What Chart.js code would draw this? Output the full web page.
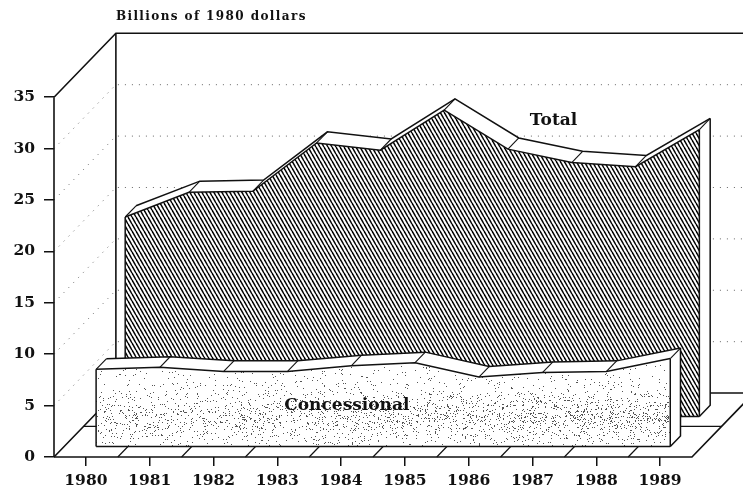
<!DOCTYPE html>
<html>
<head>
<meta charset="utf-8">
<title>Billions of 1980 dollars</title>
<script src="https://cdn.jsdelivr.net/npm/chart.js@4/dist/chart.umd.min.js"></script>
<style>
  html, body { margin: 0; padding: 0; background: #fff; }
  canvas { display: block; }
</style>
</head>
<body>
<canvas id="chart" width="743" height="486"></canvas>
<script>
const years = [1980, 1981, 1982, 1983, 1984, 1985, 1986, 1987, 1988, 1989];
const total = [19.4, 21.8, 21.9, 26.6, 25.9, 29.8, 26.0, 24.7, 24.3, 27.9];
const concessional = [7.5, 7.7, 7.3, 7.3, 7.85, 8.15, 6.75, 7.2, 7.3, 8.55];
const valueTicks = [0, 5, 10, 15, 20, 25, 30, 35];

const INK = "#111";
const SERIF = "'DejaVu Serif', serif";

// how far the back wall sits behind the front, in axis units
const WALL_X = 0.97;
const WALL_Y = 6.22;
const X_MIN = 1979.5;
const X_END = 1989.5;
const X_MAX = 1990.3;
const Y_MAX = 41.25;

const at = (x, y, depth) => ({ x: x + depth * WALL_X, y: y + depth * WALL_Y });
const edge = (values, depth) => values.map((v, i) => at(years[i], v, depth));

// steep diagonal stripes, running down to the right
function hatchPattern() {
  const w = 4;
  const h = 7;
  const c = document.createElement("canvas");
  c.width = w;
  c.height = h;
  const g = c.getContext("2d");
  g.fillStyle = "#fff";
  g.fillRect(0, 0, w, h);
  g.strokeStyle = "#000";
  g.lineWidth = 1.5;
  for (let i = -w; i <= w; i += w) {
    g.beginPath();
    g.moveTo(i, 0);
    g.lineTo(i + w, h);
    g.stroke();
  }
  return g.createPattern(c, "repeat");
}

// speckle for the front face, denser towards the lower part
function stipplePattern() {
  const w = 743;
  const h = 486;
  const c = document.createElement("canvas");
  c.width = w;
  c.height = h;
  const g = c.getContext("2d");
  g.fillStyle = "#fff";
  g.fillRect(0, 0, w, h);
  g.fillStyle = "#555";
  for (let y = 0; y < h; y++) {
    const band = Math.exp(-Math.pow((y - 416) / 18, 2));
    for (let x = 0; x < w; x++) {
      const n = Math.sin(x * 12.9898 + y * 78.233) * 43758.5453;
      if (n - Math.floor(n) < 0.025 + 0.085 * band * (0.5 + x / w)) g.fillRect(x, y, 1, 1);
    }
  }
  return g.createPattern(c, "repeat");
}

// every layer is one dataset; listed back to front
const layers = [];
const line = (points, width = 1.5, dash = [], color = INK) =>
  layers.push({ data: points, borderColor: color, borderWidth: width, borderDash: dash, fill: false });
const face = (points, baseline, color) =>
  layers.push({ data: points, borderWidth: 0, borderColor: "transparent", backgroundColor: color, fill: { value: baseline } });

// walls and floor
valueTicks.slice(1, -1).forEach((v) => {
  line([at(X_MIN, v, 0), at(X_MIN, v, 1), { x: X_MAX, y: v + WALL_Y }], 1, [1, 6], "#666");
});
line([at(X_MIN, 35, 0), at(X_MIN, 35, 1), { x: X_MAX, y: 35 + WALL_Y }], 1.6);
line([at(X_MIN, 0, 0), at(X_MIN, 35, 0)], 1.6);
line([at(X_MIN, 0, 1), at(X_MIN, 35, 1)], 1.6);
line([at(X_MIN, 0, 0), at(X_MIN, 0, 1), { x: X_MAX, y: WALL_Y }], 1.6);
line([at(X_MIN, 0, 0), at(X_END, 0, 0), at(X_END, 0, 0.84)], 1.6);
line([at(X_MIN, 0, 0.48), at(X_END, 0, 0.48)], 1.3);
years.slice(0, -1).forEach((y) => line([at(y + 0.5, 0, 0), at(y + 0.5, 0, 1)], 1.2));

// one ribbon: back edge, white top and side, patterned front, outlines
function ribbon(values, front, back, fillColor) {
  const first = years[0];
  const last = years[years.length - 1];
  face(edge(values, back), back * WALL_Y, "#fff");
  face(edge(values, front), front * WALL_Y, fillColor);
  line(edge(values, back));
  line(edge(values, front));
  years.forEach((y, i) => line([at(y, values[i], front), at(y, values[i], back)], 1.1));
  line([at(first, 0, front), at(first, values[0], front)]);
  line([at(last, 0, front), at(last, values[9], front)]);
  line([at(first, 0, front), at(last, 0, front)]);
  line([at(last, values[9], back), at(last, 0, back), at(last, 0, front)]);
}
ribbon(total, 0.635, 0.81, hatchPattern());
ribbon(concessional, 0.165, 0.33, stipplePattern());

const labels = [
  { text: "Billions of 1980 dollars", x: 1980.47, y: 42.8, font: "bold 12px " + SERIF, align: "left", spacing: "1.4px" },
  { text: "Total", x: 1987.33, y: 32.7, font: "bold 17px " + SERIF, align: "center", spacing: "0px" },
  { text: "Concessional", x: 1984.09, y: 4.96, font: "bold 17px " + SERIF, align: "center", spacing: "0px" },
];

const textPlugin = {
  id: "chartText",
  afterDatasetsDraw(chart) {
    const { ctx, scales } = chart;
    ctx.save();
    ctx.fillStyle = INK;
    ctx.textBaseline = "middle";
    labels.forEach((l) => {
      ctx.font = l.font;
      ctx.textAlign = l.align;
      ctx.letterSpacing = l.spacing;
      ctx.fillText(l.text, scales.x.getPixelForValue(l.x), scales.y.getPixelForValue(l.y));
    });
    ctx.restore();
  },
};

new Chart(document.getElementById("chart"), {
  type: "line",
  data: {
    datasets: layers.map((l, i) => ({
      ...l,
      order: layers.length - i,
      pointRadius: 0,
      tension: 0,
      clip: false,
    })),
  },
  options: {
    responsive: false,
    animation: false,
    layout: { padding: { top: 33, right: 0, left: 0, bottom: 0 } },
    plugins: { legend: { display: false }, tooltip: { enabled: false }, title: { display: false } },
    scales: {
      x: {
        type: "linear",
        min: X_MIN,
        max: X_MAX,
        border: { display: false },
        grid: { drawOnChartArea: false, drawTicks: true, tickLength: 9, color: INK, lineWidth: 1.5 },
        afterBuildTicks: (scale) => { scale.ticks = years.map((value) => ({ value })); },
        afterFit: (scale) => { scale.height = 29; },
        ticks: {
          autoSkip: false,
          maxRotation: 0,
          padding: 6,
          color: INK,
          font: { family: SERIF, size: 15.5, weight: "bold" },
          callback: (value) => String(value),
        },
      },
      y: {
        min: 0,
        max: Y_MAX,
        border: { display: false },
        grid: { drawOnChartArea: false, drawTicks: true, tickLength: 10, color: INK, lineWidth: 1.5 },
        afterBuildTicks: (scale) => { scale.ticks = valueTicks.map((value) => ({ value })); },
        afterFit: (scale) => { scale.width = 54; },
        ticks: {
          padding: 9,
          color: INK,
          font: { family: SERIF, size: 15.5, weight: "bold" },
          callback: (value) => String(value),
        },
      },
    },
  },
  plugins: [textPlugin],
});
</script>
</body>
</html>
